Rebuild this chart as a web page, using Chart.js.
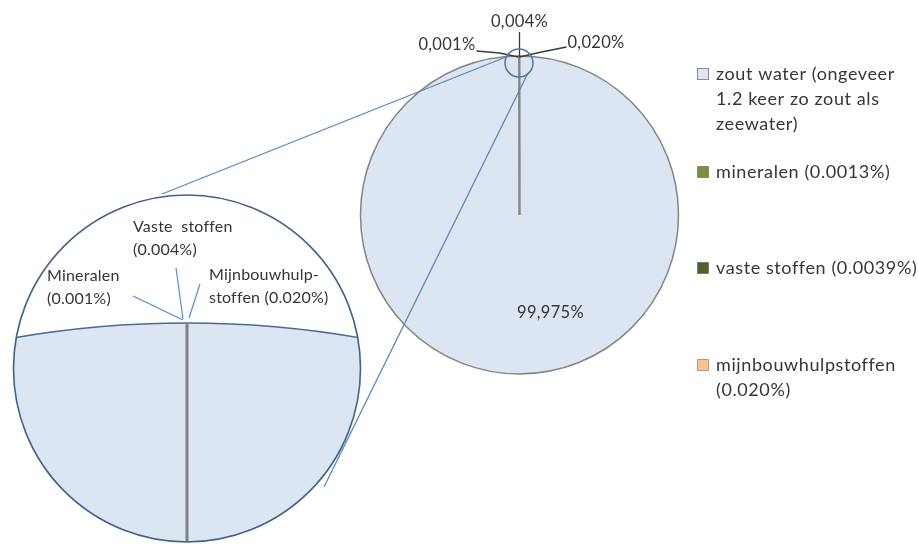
<!DOCTYPE html>
<html><head><meta charset="utf-8">
<script src="https://cdn.jsdelivr.net/npm/chart.js@4.4.1/dist/chart.umd.min.js"></script>
<style>html,body{margin:0;padding:0;background:#fff;}#wrap{width:918px;height:544px;position:relative;}</style>
</head><body><div id="wrap"><canvas id="c"></canvas></div>
<script>
// ---- data ----
const categories = ['zout water (ongeveer 1.2 keer zo zout als zeewater)', 'mineralen (0.0013%)', 'vaste stoffen (0.0039%)', 'mijnbouwhulpstoffen (0.020%)'];
const legendLines = [['zout water (ongeveer', '1.2 keer zo zout als', 'zeewater)'], ['mineralen (0.0013%)'], ['vaste stoffen (0.0039%)'], ['mijnbouwhulpstoffen', '(0.020%)']];
const shares = [99.975, 0.0013, 0.0039, 0.020];
const pieLabels = ['99,975%', '0,001%', '0,004%', '0,020%'];
const zoomLabels = [null, ['Mineralen', '(0.001%)'], ['Vaste  stoffen', '(0.004%)'], ['Mijnbouwhulp-', 'stoffen (0.020%)']];
const colors = ['#DCE6F2', '#77933C', '#4F6228', '#FAC090'];

const FONT = 'Lato, "Open Sans", sans-serif';
const TEXT = '#363636';

function spacing(ctx, px) { if ('letterSpacing' in ctx) ctx.letterSpacing = px + 'px'; }

const overlay = {
  id: 'overlay',
  afterDraw(chart) {
    const ctx = chart.ctx;
    const arc = chart.getDatasetMeta(0).data[0];
    const cx = arc.x, cy = arc.y, R = arc.outerRadius;
    const top = {x: cx, y: cy - R};
    ctx.save();
    ctx.textBaseline = 'middle';

    // main value label of the big slice
    ctx.fillStyle = TEXT;
    ctx.font = '16.5px ' + FONT;
    spacing(ctx, 0.3);
    ctx.textAlign = 'center';
    ctx.fillText(pieLabels[0], cx + 31, cy + 98);

    // leader lines and labels of the tiny slices
    ctx.strokeStyle = '#3a3a3a';
    ctx.lineWidth = 1.3;
    const leaders = [
      null,
      {pts: [[-43, -5], [-20, -3], [-1, 1]], tx: -44, ty: -11, align: 'right'},
      {pts: [[0, -24], [0, 1]], tx: 0, ty: -34, align: 'center'},
      {pts: [[47, -9], [22, -4], [0, 1]], tx: 48, ty: -13, align: 'left'}
    ];
    for (let i = 1; i < leaders.length; i++) {
      const L = leaders[i];
      ctx.beginPath();
      L.pts.forEach((p, k) => k ? ctx.lineTo(top.x + p[0], top.y + p[1]) : ctx.moveTo(top.x + p[0], top.y + p[1]));
      ctx.stroke();
      ctx.textAlign = L.align;
      ctx.fillText(pieLabels[i], top.x + L.tx, top.y + L.ty);
    }

    // lens on the pie
    const lens = {x: cx - 0.5, y: top.y + 7, r: 14};
    const Z = {x: 187, y: 368.5, r: 173.5};
    ctx.strokeStyle = '#5b86bd';
    ctx.lineWidth = 1.3;
    ctx.beginPath();
    ctx.moveTo(lens.x - 13, lens.y - 6);
    ctx.lineTo(162, 194);
    ctx.stroke();
    ctx.beginPath();
    ctx.moveTo(lens.x + 9, lens.y + 10);
    ctx.lineTo(lens.x + 9 - 204, lens.y + 10 + 414);
    ctx.stroke();
    ctx.strokeStyle = '#4f76a6';
    ctx.lineWidth = 1.5;
    ctx.beginPath();
    ctx.arc(lens.x, lens.y, lens.r, 0, Math.PI * 2);
    ctx.stroke();

    // zoom circle
    ctx.save();
    ctx.beginPath();
    ctx.arc(Z.x, Z.y, Z.r, 0, Math.PI * 2);
    ctx.fillStyle = '#ffffff';
    ctx.fill();
    ctx.clip();
    const edgeR = 1004, edgeTop = Z.y - 45.5;
    ctx.beginPath();
    ctx.arc(Z.x, edgeTop + edgeR, edgeR, 0, Math.PI * 2);
    ctx.fillStyle = colors[0];
    ctx.fill();
    ctx.strokeStyle = '#4a6a94';
    ctx.lineWidth = 1.5;
    ctx.stroke();
    // magnified slice boundaries
    ctx.strokeStyle = '#808080';
    ctx.lineWidth = 3;
    ctx.beginPath();
    ctx.moveTo(Z.x, edgeTop);
    ctx.lineTo(Z.x, Z.y + Z.r + 5);
    ctx.stroke();
    ctx.restore();

    // zoom label lines
    ctx.strokeStyle = '#5b8bd0';
    ctx.lineWidth = 1.2;
    const zl = [null, [[133, 296], [183, 320]], [[176, 268], [183, 319]], [[200, 284], [189, 318]]];
    for (let i = 1; i < zl.length; i++) {
      ctx.beginPath();
      ctx.moveTo(zl[i][0][0], zl[i][0][1]);
      ctx.lineTo(zl[i][1][0], zl[i][1][1]);
      ctx.stroke();
    }
    // zoom labels
    ctx.fillStyle = TEXT;
    ctx.font = '16px ' + FONT;
    spacing(ctx, 0.2);
    ctx.textAlign = 'left';
    const zpos = [null, [47, 276], [133, 227], [209, 275]];
    for (let i = 1; i < zoomLabels.length; i++) {
      zoomLabels[i].forEach((t, k) => ctx.fillText(t, zpos[i][0], zpos[i][1] + k * 23));
    }
    // zoom circle border
    ctx.strokeStyle = '#41628d';
    ctx.lineWidth = 1.6;
    ctx.beginPath();
    ctx.arc(Z.x, Z.y, Z.r, 0, Math.PI * 2);
    ctx.stroke();

    // legend
    const ly = [74, 172, 268, 365];
    ctx.font = '18px ' + FONT;
    spacing(ctx, 0.6);
    ctx.textAlign = 'left';
    for (let i = 0; i < legendLines.length; i++) {
      ctx.fillStyle = colors[i];
      ctx.fillRect(697.5, ly[i] - 5.5, 11, 11);
      ctx.strokeStyle = i === 0 ? '#8c8c8c' : 'rgba(0,0,0,0.3)';
      ctx.lineWidth = 1;
      ctx.strokeRect(697.5, ly[i] - 5.5, 11, 11);
      ctx.fillStyle = TEXT;
      legendLines[i].forEach((t, k) => ctx.fillText(t, 716, ly[i] + k * 25));
    }
    ctx.restore();
  }
};

new Chart(document.getElementById('c'), {
  type: 'pie',
  data: {
    labels: categories,
    datasets: [{
      data: shares,
      backgroundColor: colors,
      borderColor: '#858585',
      borderWidth: 1.5,
      radius: 159
    }]
  },
  options: {
    responsive: true,
    maintainAspectRatio: false,
    animation: false,
    events: [],
    layout: {padding: {left: 360.5, right: 239.5, top: 56, bottom: 170}},
    plugins: {legend: {display: false}, tooltip: {enabled: false}}
  },
  plugins: [overlay]
});
</script>
</body></html>
